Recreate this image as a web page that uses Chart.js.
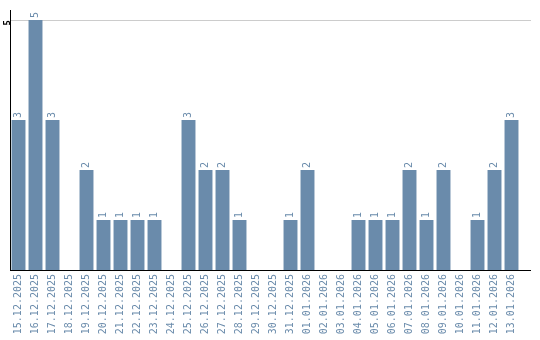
<!DOCTYPE html>
<html>
<head>
<meta charset="utf-8">
<script src="https://cdn.jsdelivr.net/npm/chart.js@4"></script>
<style>
  html, body { margin: 0; padding: 0; background: #fff; }
  #wrap { width: 540px; height: 340px; }
</style>
</head>
<body>
<div id="wrap"><canvas id="daysChart" width="540" height="340"></canvas></div>
<script>
const days = ['15.12.2025', '16.12.2025', '17.12.2025', '18.12.2025', '19.12.2025', '20.12.2025',
    '21.12.2025', '22.12.2025', '23.12.2025', '24.12.2025', '25.12.2025', '26.12.2025',
    '27.12.2025', '28.12.2025', '29.12.2025', '30.12.2025', '31.12.2025', '01.01.2026',
    '02.01.2026', '03.01.2026', '04.01.2026', '05.01.2026', '06.01.2026', '07.01.2026',
    '08.01.2026', '09.01.2026', '10.01.2026', '11.01.2026', '12.01.2026', '13.01.2026'];
const counts = [3, 5, 3, 0, 2, 1, 1, 1, 1, 0, 3, 2, 2, 1, 0, 0, 1, 2, 0, 0, 1, 1, 1, 2, 1, 2, 0, 1, 2, 3];
const yTicks = [5];

const barColor = '#6a8bab';
const textColor = '#6a8bab';
const lineEnd = 531; // axis and grid lines run a bit past the last bar

// value labels on top of each bar, rotated like the axis labels
const valueLabels = {
    id: 'valueLabels',
    beforeDatasetsDraw(chart) {
        // stretch the axis line and grid line to the right edge
        const ctx = chart.ctx;
        const area = chart.chartArea;
        const y = chart.scales.y;
        ctx.save();
        ctx.lineWidth = 1;
        ctx.strokeStyle = '#cccccc';
        yTicks.forEach(v => {
            const py = Math.round(y.getPixelForValue(v)) + 0.5;
            ctx.beginPath();
            ctx.moveTo(area.right, py);
            ctx.lineTo(lineEnd, py);
            ctx.stroke();
        });
        ctx.strokeStyle = '#000';
        const by = Math.round(y.getPixelForValue(0)) + 0.5;
        ctx.beginPath();
        ctx.moveTo(area.right, by);
        ctx.lineTo(lineEnd, by);
        ctx.stroke();
        ctx.restore();
    },
    afterDatasetsDraw(chart) {
        const ctx = chart.ctx;
        const meta = chart.getDatasetMeta(0);
        ctx.save();
        ctx.fillStyle = textColor;
        ctx.font = '10px "DejaVu Sans Mono", monospace';
        ctx.textAlign = 'left';
        ctx.textBaseline = 'middle';
        meta.data.forEach((bar, i) => {
            const v = counts[i];
            if (!v) return;
            ctx.save();
            ctx.translate(bar.x, bar.y - 2);
            ctx.rotate(-Math.PI / 2);
            ctx.fillText(String(v), 0, 0);
            ctx.restore();
        });
        ctx.restore();
    }
};

const ctx = document.getElementById('daysChart').getContext('2d');
const daysChart = new Chart(ctx, {
    type: 'bar',
    data: {
        labels: days,
        datasets: [{
            data: counts,
            backgroundColor: barColor,
            borderWidth: 0,
            barPercentage: 0.82,
            categoryPercentage: 1
        }]
    },
    options: {
        responsive: false,
        animation: false,
        layout: { padding: { top: 10, right: 20, left: 0, bottom: 0 } },
        plugins: {
            legend: { display: false },
            tooltip: { enabled: false }
        },
        scales: {
            x: {
                grid: { display: false, drawTicks: false },
                border: { color: '#000', width: 1 },
                ticks: {
                    autoSkip: false,
                    minRotation: 90,
                    maxRotation: 90,
                    padding: 4,
                    color: textColor,
                    font: { family: '"DejaVu Sans Mono", monospace', size: 10 }
                },
                afterFit(scale) { scale.height = 70; }
            },
            y: {
                min: 0,
                max: 5.2,
                afterBuildTicks(scale) { scale.ticks = yTicks.map(v => ({ value: v })); },
                grid: { color: '#cccccc', drawTicks: false },
                border: { color: '#000', width: 1 },
                ticks: {
                    minRotation: 90,
                    maxRotation: 90,
                    padding: 2,
                    color: '#000',
                    font: { family: '"DejaVu Sans Mono", monospace', size: 9, weight: 'bold' }
                },
                afterFit(scale) { scale.width = 10; }
            }
        }
    },
    plugins: [valueLabels]
});
</script>
</body>
</html>
